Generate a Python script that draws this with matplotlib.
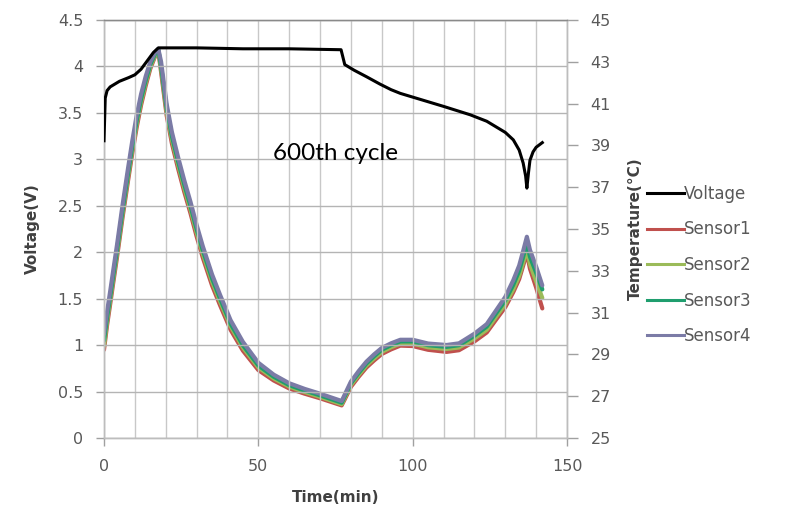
import matplotlib
matplotlib.use("Agg")
import matplotlib.pyplot as plt
from matplotlib.lines import Line2D
from matplotlib.ticker import MultipleLocator, FixedLocator, FuncFormatter

# ---------------- data ----------------
t_voltage = [0, 0.4, 1, 2, 5, 8, 10, 12, 14, 16, 17.6, 30, 45, 60, 76.8, 77.4, 78,
             81, 85, 89.4, 93, 96, 100, 103, 110, 118.6, 124, 127, 130, 132.6, 134.5,
             135.8, 136.6, 137, 137.5, 138, 139, 140, 142]
voltage = [3.2, 3.66, 3.74, 3.78, 3.84, 3.88, 3.91, 3.97, 4.06, 4.15, 4.2, 4.2, 4.19,
           4.19, 4.18, 4.1, 4.02, 3.96, 3.89, 3.81, 3.75, 3.71, 3.67, 3.64, 3.57, 3.48,
           3.41, 3.35, 3.29, 3.21, 3.1, 2.96, 2.82, 2.69, 2.85, 2.99, 3.08, 3.13, 3.18]

t_sensor = [0, 1, 2, 3, 4.2, 6, 7.8, 9.2, 10.6, 12, 13.5, 15, 16.5, 17.6, 18.5, 20.3,
            22, 24, 26, 28, 30, 32, 35, 37.6, 41, 45, 50, 55, 60, 65, 70, 77, 78, 80,
            82.5, 85, 87.5, 90, 93, 96, 100, 105, 111, 115, 120, 124, 127, 130, 132.6,
            134.5, 135.8, 137, 138, 140, 142]
sensor1 = [29.22, 30.4, 31.4, 32.43, 33.63, 35.54, 37.32, 38.65, 39.87, 40.92,
           41.85, 42.67, 43.24, 43.5, 42.5, 40.43, 39.09, 37.89, 36.78, 35.76,
           34.65, 33.63, 32.3, 31.35, 30.18, 29.18, 28.25, 27.75, 27.37, 27.12,
           26.9, 26.56, 26.85, 27.45, 27.93, 28.37, 28.71, 29.02, 29.24, 29.42,
           29.4, 29.22, 29.12, 29.2, 29.62, 30.05, 30.66, 31.26, 31.98, 32.6,
           33.25, 33.85, 33.1, 32.2, 31.2]
sensor2 = [29.4, 30.6, 31.6, 32.62, 33.82, 35.73, 37.51, 38.84, 40.05, 41.08,
           41.99, 42.77, 43.3, 43.54, 42.66, 40.62, 39.28, 38.08, 36.97, 35.95,
           34.84, 33.82, 32.49, 31.53, 30.35, 29.33, 28.38, 27.85, 27.46, 27.2,
           26.97, 26.62, 26.93, 27.54, 28.02, 28.47, 28.81, 29.12, 29.34, 29.52,
           29.52, 29.34, 29.26, 29.33, 29.76, 30.18, 30.8, 31.4, 32.12, 32.75,
           33.4, 34.03, 33.32, 32.5, 31.7]
sensor3 = [29.67, 30.78, 31.76, 32.78, 33.98, 35.89, 37.67, 39.0, 40.2, 41.22,
           42.11, 42.87, 43.36, 43.58, 42.78, 40.78, 39.44, 38.24, 37.13, 36.11,
           35.0, 33.98, 32.64, 31.67, 30.47, 29.44, 28.47, 27.93, 27.53, 27.27,
           27.04, 26.69, 27.0, 27.62, 28.11, 28.56, 28.91, 29.22, 29.44, 29.62,
           29.62, 29.44, 29.36, 29.44, 29.89, 30.33, 30.96, 31.58, 32.33, 33.0,
           33.67, 34.33, 33.67, 32.91, 32.11]
sensor4 = [29.97, 31.05, 32.02, 33.03, 34.23, 36.14, 37.92, 39.25, 40.45, 41.45,
           42.3, 43.0, 43.44, 43.62, 43.0, 40.98, 39.64, 38.44, 37.33, 36.31,
           35.2, 34.18, 32.83, 31.85, 30.64, 29.6, 28.6, 28.03, 27.62, 27.35,
           27.12, 26.77, 27.08, 27.7, 28.2, 28.65, 29.0, 29.31, 29.53, 29.7,
           29.7, 29.52, 29.45, 29.53, 29.99, 30.45, 31.1, 31.75, 32.55, 33.25,
           33.95, 34.63, 34.0, 33.2, 32.3]

sensor_names = ["Sensor1", "Sensor2", "Sensor3", "Sensor4"]
sensor_colors = ["#c0504d", "#9bbb59", "#1f9e6e", "#7b7ba6"]
annotation = "600th cycle"

# ---------------- figure ----------------
fig = plt.figure(figsize=(8.07, 5.13), dpi=100)
ax = fig.add_axes([104 / 807, 1 - 438 / 513, (567 - 104) / 807, (438 - 20) / 513])
ax2 = ax.twinx()

tick_color = "#595959"
label_color = "#404040"
grid_color = "#c8c8c8"

ax.set_xlim(0, 150)
ax.set_ylim(0, 4.5)
ax2.set_ylim(25, 45)

ax.xaxis.set_major_locator(MultipleLocator(50))
ax.xaxis.set_minor_locator(MultipleLocator(10))
ax.yaxis.set_major_locator(MultipleLocator(0.5))
ax2.yaxis.set_major_locator(FixedLocator(list(range(25, 46, 2))))

fmt = FuncFormatter(lambda v, p: ("%g" % v))
ax.yaxis.set_major_formatter(fmt)
ax.xaxis.set_major_formatter(fmt)

ax.grid(True, which="both", axis="x", color=grid_color, lw=1.0)
ax.grid(True, which="major", axis="y", color="#b4b4b4", lw=1.0)
ax.set_axisbelow(True)

for a in (ax, ax2):
    for s in a.spines.values():
        s.set_color("#bdbdbd")
        s.set_linewidth(1.0)
ax.spines["top"].set_color("#8a8a8a")

ax.tick_params(axis="both", which="major", colors="#a0a0a0", length=6, width=1,
               labelcolor=tick_color, labelsize=11.5)
ax.tick_params(axis="y", pad=9)
ax.tick_params(axis="x", pad=9)
ax.tick_params(axis="x", which="minor", length=0)
ax2.tick_params(axis="y", colors="#a0a0a0", length=8, width=1,
                labelcolor=tick_color, labelsize=11.5, pad=9)

# sensors on temperature axis
for name, col, data in zip(sensor_names, sensor_colors,
                           [sensor1, sensor2, sensor3, sensor4]):
    ax2.plot(t_sensor, data, color=col, lw=3.0, label=name,
             solid_joinstyle="round", solid_capstyle="round")

# voltage
ax.plot(t_voltage, voltage, color="black", lw=2.2, zorder=3,
        solid_joinstyle="round")
ax.set_zorder(ax2.get_zorder() + 1)
ax.patch.set_visible(False)

ax.set_xlabel("Time(min)", fontsize=11, fontweight="bold", color=label_color,
              labelpad=12)
ax.set_ylabel("Voltage(V)", fontsize=11, fontweight="bold", color=label_color,
              labelpad=13)
ax2.set_ylabel("Temperature(°C)", fontsize=11, fontweight="bold",
               color=label_color, labelpad=12)

ax.text(0.365, 0.665, annotation, transform=ax.transAxes, fontsize=17.5,
        family="Lato", color="black")

proxies = [Line2D([], [], color="black", lw=2.2)] + \
          [Line2D([], [], color=c, lw=2.2) for c in sensor_colors]
leg = fig.legend(handles=proxies, labels=["Voltage"] + sensor_names,
                 loc="upper left", bbox_to_anchor=(632 / 807, 1 - 170 / 513),
                 frameon=False, fontsize=12, handlelength=2.2,
                 handletextpad=0.0, labelspacing=1.05)
for txt in leg.get_texts():
    txt.set_color(tick_color)

fig.savefig("out.png", dpi=100)
